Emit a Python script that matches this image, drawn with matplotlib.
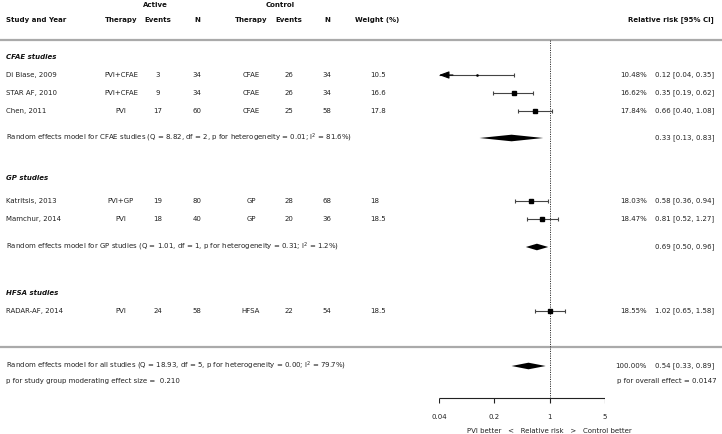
import numpy as np
import matplotlib.pyplot as plt
from matplotlib.patches import Polygon

plt.rcParams['font.family'] = 'DejaVu Sans'

# study level data
studies = ["Di Biase, 2009", "STAR AF, 2010", "Chen, 2011",
           "Katritsis, 2013", "Mamchur, 2014", "RADAR-AF, 2014"]
act_therapy = ["PVI+CFAE", "PVI+CFAE", "PVI", "PVI+GP", "PVI", "PVI"]
act_events = [3, 9, 17, 19, 18, 24]
act_n = [34, 34, 60, 80, 40, 58]
ctl_therapy = ["CFAE", "CFAE", "CFAE", "GP", "GP", "HFSA"]
ctl_events = [26, 26, 25, 28, 20, 22]
ctl_n = [34, 34, 58, 68, 36, 54]
weight_col = ["10.5", "16.6", "17.8", "18", "18.5", "18.5"]
weight_pct = [10.48, 16.62, 17.84, 18.03, 18.47, 18.55]
rr = [0.12, 0.35, 0.66, 0.58, 0.81, 1.02]
rr_lo = [0.04, 0.19, 0.40, 0.36, 0.52, 0.65]
rr_hi = [0.35, 0.62, 1.08, 0.94, 1.27, 1.58]

# pooled estimates
pooled_rr = [0.33, 0.69, 0.54]
pooled_lo = [0.13, 0.50, 0.33]
pooled_hi = [0.83, 0.96, 0.89]
pooled_text = [
    "Random effects model for CFAE studies (Q = 8.82, df = 2, p for heterogeneity = 0.01; I$^2$ = 81.6%)",
    "Random effects model for GP studies (Q = 1.01, df = 1, p for heterogeneity = 0.31; I$^2$ = 1.2%)",
    "Random effects model for all studies (Q = 18.93, df = 5, p for heterogeneity = 0.00; I$^2$ = 79.7%)",
]
groups = ["CFAE studies", "GP studies", "HFSA studies"]
xticks = [0.04, 0.2, 1, 5]

# layout (pixel rows, top = 0)
W, H = 722, 434
study_y = [75, 93, 111, 201, 219, 311]
pooled_y = [138, 247, 366]
group_y = [57, 178, 293]
axis_y = 398

fig = plt.figure(figsize=(W / 100, H / 100), dpi=100)
bg = fig.add_axes([0, 0, 1, 1])
bg.set_xlim(0, W)
bg.set_ylim(H, 0)
bg.axis('off')

fs = 5.0
txt = dict(fontsize=fs, va='center', color='#222222')
bold = dict(fontsize=fs, va='center', fontweight='bold', color='#111111')

# headers
bg.text(155, 5, "Active", ha='center', **bold)
bg.text(280, 5, "Control", ha='center', **bold)
bg.text(6, 20, "Study and Year", ha='left', **bold)
for x, s in [(121, "Therapy"), (158, "Events"), (197, "N"),
             (251, "Therapy"), (289, "Events"), (327, "N")]:
    bg.text(x, 20, s, ha='center', **bold)
bg.text(355, 20, "Weight (%)", ha='left', **bold)
bg.text(714, 20, "Relative risk [95% CI]", ha='right', **bold)

bg.hlines([40, 347], 0, W, color='#aaaaaa', lw=1.6)

for g, y in zip(groups, group_y):
    bg.text(6, y, g, ha='left', style='italic', **bold)

for i, y in enumerate(study_y):
    bg.text(6, y, studies[i], ha='left', **txt)
    bg.text(121, y, act_therapy[i], ha='center', **txt)
    bg.text(158, y, str(act_events[i]), ha='center', **txt)
    bg.text(197, y, str(act_n[i]), ha='center', **txt)
    bg.text(251, y, ctl_therapy[i], ha='center', **txt)
    bg.text(289, y, str(ctl_events[i]), ha='center', **txt)
    bg.text(327, y, str(ctl_n[i]), ha='center', **txt)
    bg.text(370, y, weight_col[i], ha='left', **txt)
    bg.text(647, y, "%.2f%%" % weight_pct[i], ha='right', **txt)
    bg.text(655, y, "%.2f [%.2f, %.2f]" % (rr[i], rr_lo[i], rr_hi[i]), ha='left', **txt)

for j, y in enumerate(pooled_y):
    bg.text(6, y, pooled_text[j], ha='left', **txt)
    bg.text(655, y, "%.2f [%.2f, %.2f]" % (pooled_rr[j], pooled_lo[j], pooled_hi[j]),
            ha='left', **txt)
bg.text(647, pooled_y[2], "100.00%", ha='right', **txt)
bg.text(6, 381, "p for study group moderating effect size =  0.210", ha='left', **txt)
bg.text(617, 381, "p for overall effect = 0.0147", ha='left', **txt)

# forest axes, log scale from 0.04 to 5
x0, x1 = 439, 605
ax = fig.add_axes([x0 / W, 0, (x1 - x0) / W, 1])
ax.set_xscale('log')
ax.set_xlim(0.04, 5)
ax.set_ylim(H, 0)
ax.axis('off')
ax.patch.set_alpha(0)

ax.vlines(1, 40, axis_y, color='#333333', lw=0.7, linestyles=(0, (1.2, 1.2)))

for i, y in enumerate(study_y):
    ax.hlines(y, rr_lo[i], rr_hi[i], color='#444444', lw=0.8)
    if rr_lo[i] <= 0.04:
        # CI runs off the left edge -> arrow
        ax.annotate("", xy=(0.04, y), xytext=(0.06, y),
                    arrowprops=dict(arrowstyle='-|>,head_length=0.6,head_width=0.22',
                                    color='black', lw=0.8, shrinkA=0, shrinkB=0))
        ax.vlines(rr_hi[i], y - 2, y + 2, color='#444444', lw=0.8)
        ax.plot(rr[i], y, 's', color='black', ms=0.8)
    else:
        ax.vlines([rr_lo[i], rr_hi[i]], y - 2, y + 2, color='#444444', lw=0.8)
        ax.plot(rr[i], y, 's', color='black', ms=2.9)

for j, y in enumerate(pooled_y):
    dh = 3.3
    poly = Polygon([[pooled_lo[j], y], [pooled_rr[j], y - dh],
                    [pooled_hi[j], y], [pooled_rr[j], y + dh]],
                   closed=True, color='black', lw=0)
    ax.add_patch(poly)

# x axis drawn by hand
ax.hlines(axis_y, xticks[0], xticks[-1], color='#222222', lw=0.8)
ax.vlines(xticks, axis_y, axis_y + 5, color='#222222', lw=0.8)
for t in xticks:
    ax.text(t, 417, "%g" % t, ha='center', **txt)
ax.text(1, 431, "PVI better   <   Relative risk   >   Control better",
        ha='center', clip_on=False, **txt)

fig.savefig("out.png", dpi=100)
